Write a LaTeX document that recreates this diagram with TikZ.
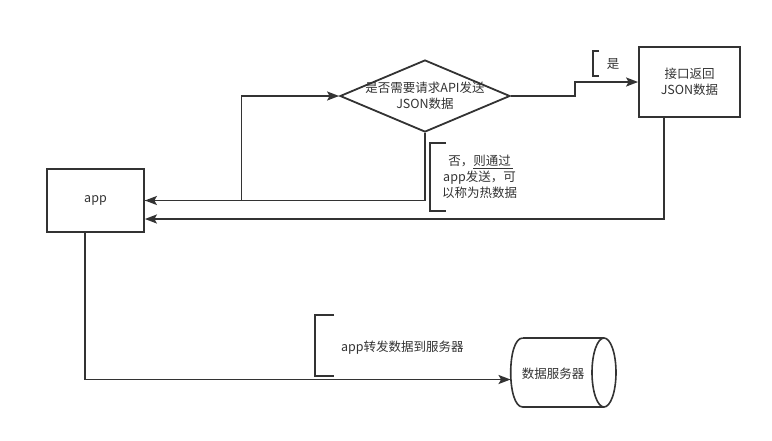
\documentclass[tikz,border=0pt]{standalone}
\usepackage{fontspec}
\setmainfont{Noto Sans CJK SC}
\usetikzlibrary{arrows.meta,shapes.geometric}
\definecolor{ink}{HTML}{333333}
\tikzset{
  box/.style={draw=ink, line width=1.8pt, fill=white, inner sep=0pt},
  conn/.style={draw=ink, line width=1.7pt},
  arr/.style={conn, -{Stealth[length=12pt,width=9pt,inset=2.5pt]}},
  lbl/.style={text=ink, font=\fontsize{12.5}{16}\selectfont, inner sep=0pt, align=center},
  brk/.style={draw=ink, line width=1.7pt},
  cyl/.style={draw=ink, line width=1.6pt},
}
\begin{document}
\begin{tikzpicture}[x=1pt,y=-1pt]
\path[use as bounding box, fill=white] (0,0) rectangle (772,440);

% nodes
\node[box, minimum width=97pt, minimum height=63pt] (app) at (95.5,200.5) {};
\node[lbl] (apptxt) at (95.5,200) {app};

\node[box, shape=diamond, minimum width=170pt, minimum height=72pt] (dec) at (425,96) {};
\node[lbl] (dectxt) at (425,96) {是否需要请求API发送\\JSON数据};

\node[box, minimum width=101pt, minimum height=70pt] (api) at (689.5,82) {};
\node[lbl] (apitxt) at (689.5,82) {接口返回\\JSON数据};

% cylinder (horizontal axis)
\node[inner sep=0pt, minimum width=105.5pt, minimum height=69pt] (db) at (563.5,372.5) {};
\fill[white] (522.7,338) .. controls (506.7,338) and (506.7,407) .. (522.7,407) -- (604,407) -- (604,338) -- cycle;
\draw[cyl] (522.7,338) .. controls (506.7,338) and (506.7,407) .. (522.7,407) -- (604,407);
\draw[cyl] (522.7,338) -- (604,338);
\draw[cyl, fill=white] (604,372.5) ellipse [x radius=12, y radius=34.5];
\node[lbl] (dbtxt) at (553,374) {数据服务器};

% connectors
\coordinate (j1) at (241.5,200.5);
\coordinate (j2) at (575,96);
\draw[arr] (dec.south) |- (app.east);
\draw[arr] (app.east) -- (j1) |- (dec.west);
\draw[arr] (dec.east) -- (j2) |- (api.west);
\draw[arr] ([xshift=-25.5pt]api.south) |- ([yshift=-18.5pt]app.east);
\draw[arr] ([xshift=-10.5pt]app.south) |- ([yshift=-7pt]db.west);

% labels with brackets
\draw[brk] (599,51) -- (592.7,51) -- (592.7,76) -- (599,76);
\node[lbl] (yes) at (613,64) {是};

\draw[brk] (446,143) -- (430,143) -- (430,211) -- (446,211);
\node[lbl] (no) at (479.5,177) {否，则通过\\app发送，可\\以称为热数据};
\draw[draw=ink, line width=1pt] (473,168.5) -- (513,168.5);

\draw[brk] (334,315) -- (315,315) -- (315,376) -- (334,376);
\node[lbl, anchor=west] (fwd) at (341,348) {app转发数据到服务器};
\end{tikzpicture}
\end{document}
